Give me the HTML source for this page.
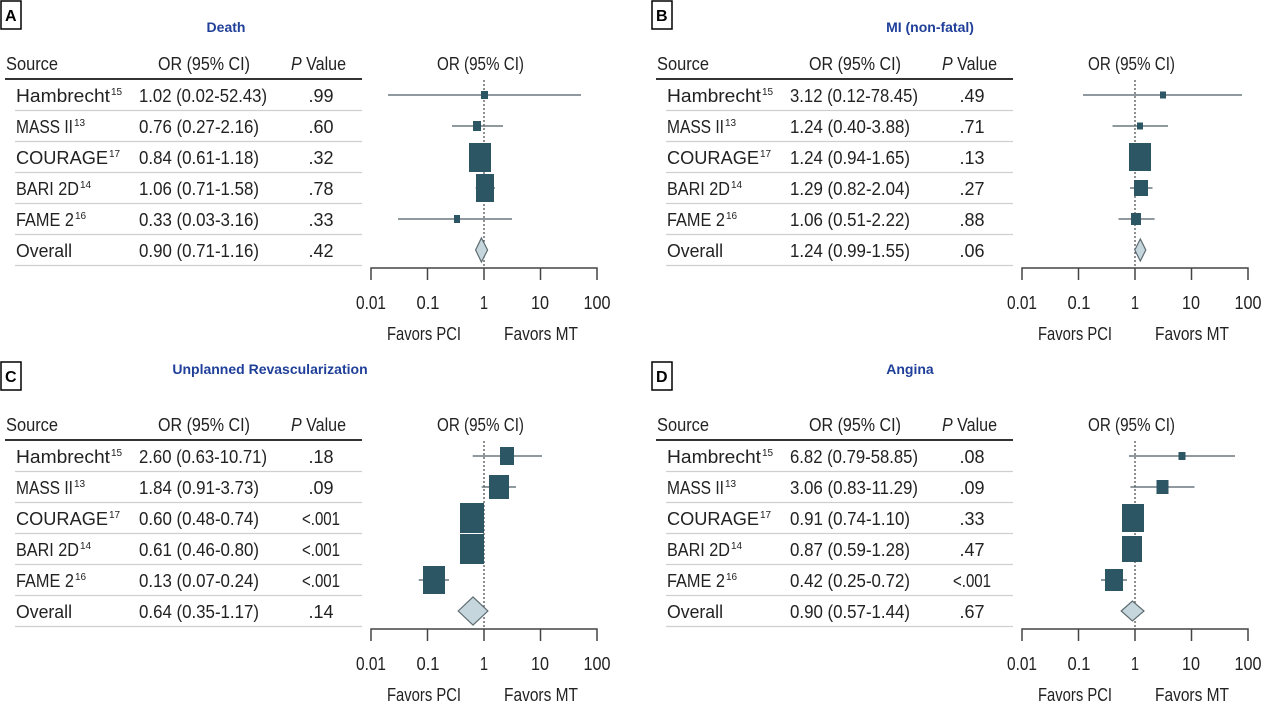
<!DOCTYPE html>
<html><head><meta charset="utf-8"><style>
html,body{margin:0;padding:0;background:#fff;}
svg{display:block;}
text{font-family:"Liberation Sans",sans-serif;font-size:18px;fill:#222;}
.t{font-weight:bold;font-size:14px;fill:#1f3f99;}
.l{font-weight:bold;font-size:16px;fill:#000;}
.sup{font-size:10px;}
.sep{stroke:#cfcfcf;stroke-width:1.2;}
.ci{stroke:#4d5e64;stroke-width:1.2;}
.bx{fill:#2d5664;}
.dm{fill:#c6d6dd;stroke:#5d6b70;stroke-width:1.2;}
.ax{stroke:#444;stroke-width:1.5;fill:none;}
</style></head><body>
<svg width="1262" height="707" viewBox="0 0 1262 707" xmlns="http://www.w3.org/2000/svg">
<defs>
<g id="frame">
  <text x="6" y="70" textLength="52" lengthAdjust="spacingAndGlyphs">Source</text>
  <text x="158" y="70" textLength="92" lengthAdjust="spacingAndGlyphs">OR (95% CI)</text>
  <text x="291" y="70" textLength="55" lengthAdjust="spacingAndGlyphs"><tspan font-style="italic">P</tspan> Value</text>
  <text x="437" y="70" textLength="87" lengthAdjust="spacingAndGlyphs">OR (95% CI)</text>
  <line x1="5" y1="79" x2="362" y2="79" stroke="#333" stroke-width="2"/>
  <line class="sep" x1="15" y1="110.5" x2="362" y2="110.5"/>
  <line class="sep" x1="15" y1="141.5" x2="362" y2="141.5"/>
  <line class="sep" x1="15" y1="172.5" x2="362" y2="172.5"/>
  <line class="sep" x1="15" y1="203.5" x2="362" y2="203.5"/>
  <line class="sep" x1="15" y1="234.5" x2="362" y2="234.5"/>
  <line class="sep" x1="15" y1="265.5" x2="362" y2="265.5"/>
  <text x="16" y="102" textLength="94" lengthAdjust="spacingAndGlyphs">Hambrecht</text><text class="sup" x="111" y="95">15</text>
  <text x="16" y="133" textLength="57" lengthAdjust="spacingAndGlyphs">MASS II</text><text class="sup" x="74" y="126">13</text>
  <text x="16" y="164" textLength="92" lengthAdjust="spacingAndGlyphs">COURAGE</text><text class="sup" x="109" y="157">17</text>
  <text x="16" y="195" textLength="63" lengthAdjust="spacingAndGlyphs">BARI 2D</text><text class="sup" x="80" y="188">14</text>
  <text x="16" y="226" textLength="58" lengthAdjust="spacingAndGlyphs">FAME 2</text><text class="sup" x="75" y="219">16</text>
  <text x="16" y="257" textLength="56" lengthAdjust="spacingAndGlyphs">Overall</text>
  <line x1="484" y1="80" x2="484" y2="268" stroke="#555" stroke-width="1.3" stroke-dasharray="2,2"/>
  <path class="ax" d="M371,280 V268 H597 V280 M427.5,268 V280 M484,268 V280 M540.5,268 V280"/>
  <text x="371" y="309" text-anchor="middle" textLength="30" lengthAdjust="spacingAndGlyphs">0.01</text>
  <text x="428" y="309" text-anchor="middle" textLength="23" lengthAdjust="spacingAndGlyphs">0.1</text>
  <text x="484" y="309" text-anchor="middle" textLength="8" lengthAdjust="spacingAndGlyphs">1</text>
  <text x="540" y="309" text-anchor="middle" textLength="18" lengthAdjust="spacingAndGlyphs">10</text>
  <text x="597" y="309" text-anchor="middle" textLength="27" lengthAdjust="spacingAndGlyphs">100</text>
  <text x="424" y="340" text-anchor="middle" textLength="74" lengthAdjust="spacingAndGlyphs">Favors PCI</text>
  <text x="541" y="340" text-anchor="middle" textLength="74" lengthAdjust="spacingAndGlyphs">Favors MT</text>
</g>
</defs>

<!-- Panel A -->
<g transform="translate(0,0)">
  <rect x="1" y="1" width="20" height="28" fill="none" stroke="#000" stroke-width="1.5"/>
  <text class="l" x="5" y="21">A</text>
  <text class="t" x="226" y="32" text-anchor="middle">Death</text>
  <use href="#frame"/>
  <text x="139" y="102" textLength="128" lengthAdjust="spacingAndGlyphs">1.02 (0.02-52.43)</text>
  <text x="139" y="133" textLength="120" lengthAdjust="spacingAndGlyphs">0.76 (0.27-2.16)</text>
  <text x="139" y="164" textLength="120" lengthAdjust="spacingAndGlyphs">0.84 (0.61-1.18)</text>
  <text x="139" y="195" textLength="120" lengthAdjust="spacingAndGlyphs">1.06 (0.71-1.58)</text>
  <text x="139" y="226" textLength="120" lengthAdjust="spacingAndGlyphs">0.33 (0.03-3.16)</text>
  <text x="139" y="257" textLength="120" lengthAdjust="spacingAndGlyphs">0.90 (0.71-1.16)</text>
  <text x="321" y="102" text-anchor="middle">.99</text>
  <text x="321" y="133" text-anchor="middle">.60</text>
  <text x="321" y="164" text-anchor="middle">.32</text>
  <text x="321" y="195" text-anchor="middle">.78</text>
  <text x="321" y="226" text-anchor="middle">.33</text>
  <text x="321" y="257" text-anchor="middle">.42</text>
  <line class="ci" x1="388" y1="95" x2="581" y2="95"/><rect class="bx" x="481" y="91" width="7" height="8"/>
  <line class="ci" x1="452" y1="126" x2="503" y2="126"/><rect class="bx" x="473" y="121" width="8" height="10"/>
  <line class="ci" x1="472" y1="157" x2="488" y2="157"/><rect class="bx" x="469" y="143" width="22" height="29"/>
  <line class="ci" x1="475.6" y1="188" x2="495" y2="188"/><rect class="bx" x="476" y="174" width="18" height="28"/>
  <line class="ci" x1="398" y1="219" x2="512" y2="219"/><rect class="bx" x="454" y="215" width="6" height="8"/>
  <polygon class="dm" points="475.6,250 481.4,238 487.6,250 481.4,262"/>
</g>

<!-- Panel B -->
<g transform="translate(651,0)">
  <rect x="1" y="1" width="20" height="28" fill="none" stroke="#000" stroke-width="1.5"/>
  <text class="l" x="5" y="21">B</text>
  <text class="t" x="279" y="32" text-anchor="middle">MI (non-fatal)</text>
  <use href="#frame"/>
  <text x="139" y="102" textLength="128" lengthAdjust="spacingAndGlyphs">3.12 (0.12-78.45)</text>
  <text x="139" y="133" textLength="120" lengthAdjust="spacingAndGlyphs">1.24 (0.40-3.88)</text>
  <text x="139" y="164" textLength="120" lengthAdjust="spacingAndGlyphs">1.24 (0.94-1.65)</text>
  <text x="139" y="195" textLength="120" lengthAdjust="spacingAndGlyphs">1.29 (0.82-2.04)</text>
  <text x="139" y="226" textLength="120" lengthAdjust="spacingAndGlyphs">1.06 (0.51-2.22)</text>
  <text x="139" y="257" textLength="120" lengthAdjust="spacingAndGlyphs">1.24 (0.99-1.55)</text>
  <text x="321" y="102" text-anchor="middle">.49</text>
  <text x="321" y="133" text-anchor="middle">.71</text>
  <text x="321" y="164" text-anchor="middle">.13</text>
  <text x="321" y="195" text-anchor="middle">.27</text>
  <text x="321" y="226" text-anchor="middle">.88</text>
  <text x="321" y="257" text-anchor="middle">.06</text>
  <line class="ci" x1="432" y1="95" x2="591" y2="95"/><rect class="bx" x="509" y="91.5" width="6" height="7"/>
  <line class="ci" x1="461.5" y1="126" x2="517" y2="126"/><rect class="bx" x="486" y="122.5" width="6" height="7"/>
  <line class="ci" x1="482.5" y1="157" x2="496" y2="157"/><rect class="bx" x="478" y="143" width="22" height="28"/>
  <line class="ci" x1="479" y1="188" x2="501.5" y2="188"/><rect class="bx" x="483" y="180" width="14" height="16"/>
  <line class="ci" x1="467.5" y1="219" x2="503.6" y2="219"/><rect class="bx" x="480" y="213" width="10" height="12"/>
  <polygon class="dm" points="483.8,250 489.3,239 494.8,250 489.3,261"/>
</g>

<!-- Panel C -->
<g transform="translate(0,361)">
  <rect x="1" y="1" width="20" height="28" fill="none" stroke="#000" stroke-width="1.5"/>
  <text class="l" x="5" y="21">C</text>
  <text class="t" x="270" y="13" text-anchor="middle">Unplanned Revascularization</text>
  <use href="#frame"/>
  <text x="139" y="102" textLength="128" lengthAdjust="spacingAndGlyphs">2.60 (0.63-10.71)</text>
  <text x="139" y="133" textLength="120" lengthAdjust="spacingAndGlyphs">1.84 (0.91-3.73)</text>
  <text x="139" y="164" textLength="120" lengthAdjust="spacingAndGlyphs">0.60 (0.48-0.74)</text>
  <text x="139" y="195" textLength="120" lengthAdjust="spacingAndGlyphs">0.61 (0.46-0.80)</text>
  <text x="139" y="226" textLength="120" lengthAdjust="spacingAndGlyphs">0.13 (0.07-0.24)</text>
  <text x="139" y="257" textLength="120" lengthAdjust="spacingAndGlyphs">0.64 (0.35-1.17)</text>
  <text x="321" y="102" text-anchor="middle">.18</text>
  <text x="321" y="133" text-anchor="middle">.09</text>
  <text x="321" y="164" text-anchor="middle" textLength="38" lengthAdjust="spacingAndGlyphs">&lt;.001</text>
  <text x="321" y="195" text-anchor="middle" textLength="38" lengthAdjust="spacingAndGlyphs">&lt;.001</text>
  <text x="321" y="226" text-anchor="middle" textLength="38" lengthAdjust="spacingAndGlyphs">&lt;.001</text>
  <text x="321" y="257" text-anchor="middle">.14</text>
  <line class="ci" x1="472.7" y1="95" x2="542" y2="95"/><rect class="bx" x="500" y="86" width="14" height="18"/>
  <line class="ci" x1="481.7" y1="126" x2="516" y2="126"/><rect class="bx" x="489" y="114" width="20" height="24"/>
  <line class="ci" x1="466" y1="157" x2="476.6" y2="157"/><rect class="bx" x="460" y="142" width="24" height="30"/>
  <line class="ci" x1="465" y1="188" x2="478.5" y2="188"/><rect class="bx" x="460" y="173" width="24" height="30"/>
  <line class="ci" x1="418.7" y1="219" x2="449" y2="219"/><rect class="bx" x="423" y="205" width="22" height="28"/>
  <polygon class="dm" points="458.2,250 473,236 487.9,250 473,264"/>
</g>

<!-- Panel D -->
<g transform="translate(651,361)">
  <rect x="1" y="1" width="20" height="28" fill="none" stroke="#000" stroke-width="1.5"/>
  <text class="l" x="5" y="21">D</text>
  <text class="t" x="259" y="13" text-anchor="middle">Angina</text>
  <use href="#frame"/>
  <text x="139" y="102" textLength="128" lengthAdjust="spacingAndGlyphs">6.82 (0.79-58.85)</text>
  <text x="139" y="133" textLength="128" lengthAdjust="spacingAndGlyphs">3.06 (0.83-11.29)</text>
  <text x="139" y="164" textLength="120" lengthAdjust="spacingAndGlyphs">0.91 (0.74-1.10)</text>
  <text x="139" y="195" textLength="120" lengthAdjust="spacingAndGlyphs">0.87 (0.59-1.28)</text>
  <text x="139" y="226" textLength="120" lengthAdjust="spacingAndGlyphs">0.42 (0.25-0.72)</text>
  <text x="139" y="257" textLength="120" lengthAdjust="spacingAndGlyphs">0.90 (0.57-1.44)</text>
  <text x="321" y="102" text-anchor="middle">.08</text>
  <text x="321" y="133" text-anchor="middle">.09</text>
  <text x="321" y="164" text-anchor="middle">.33</text>
  <text x="321" y="195" text-anchor="middle">.47</text>
  <text x="321" y="226" text-anchor="middle" textLength="38" lengthAdjust="spacingAndGlyphs">&lt;.001</text>
  <text x="321" y="257" text-anchor="middle">.67</text>
  <line class="ci" x1="478" y1="95" x2="584" y2="95"/><rect class="bx" x="527.5" y="91" width="7" height="8"/>
  <line class="ci" x1="479.4" y1="126" x2="543.5" y2="126"/><rect class="bx" x="505.5" y="119" width="12" height="14"/>
  <line class="ci" x1="476.6" y1="157" x2="486.3" y2="157"/><rect class="bx" x="471" y="143" width="22" height="28"/>
  <line class="ci" x1="471" y1="188" x2="490" y2="188"/><rect class="bx" x="471" y="175" width="20" height="26"/>
  <line class="ci" x1="450" y1="219" x2="476" y2="219"/><rect class="bx" x="454" y="208" width="18" height="22"/>
  <polygon class="dm" points="470.2,250 481.4,240 493,250 481.4,260"/>
</g>
</svg>
</body></html>
